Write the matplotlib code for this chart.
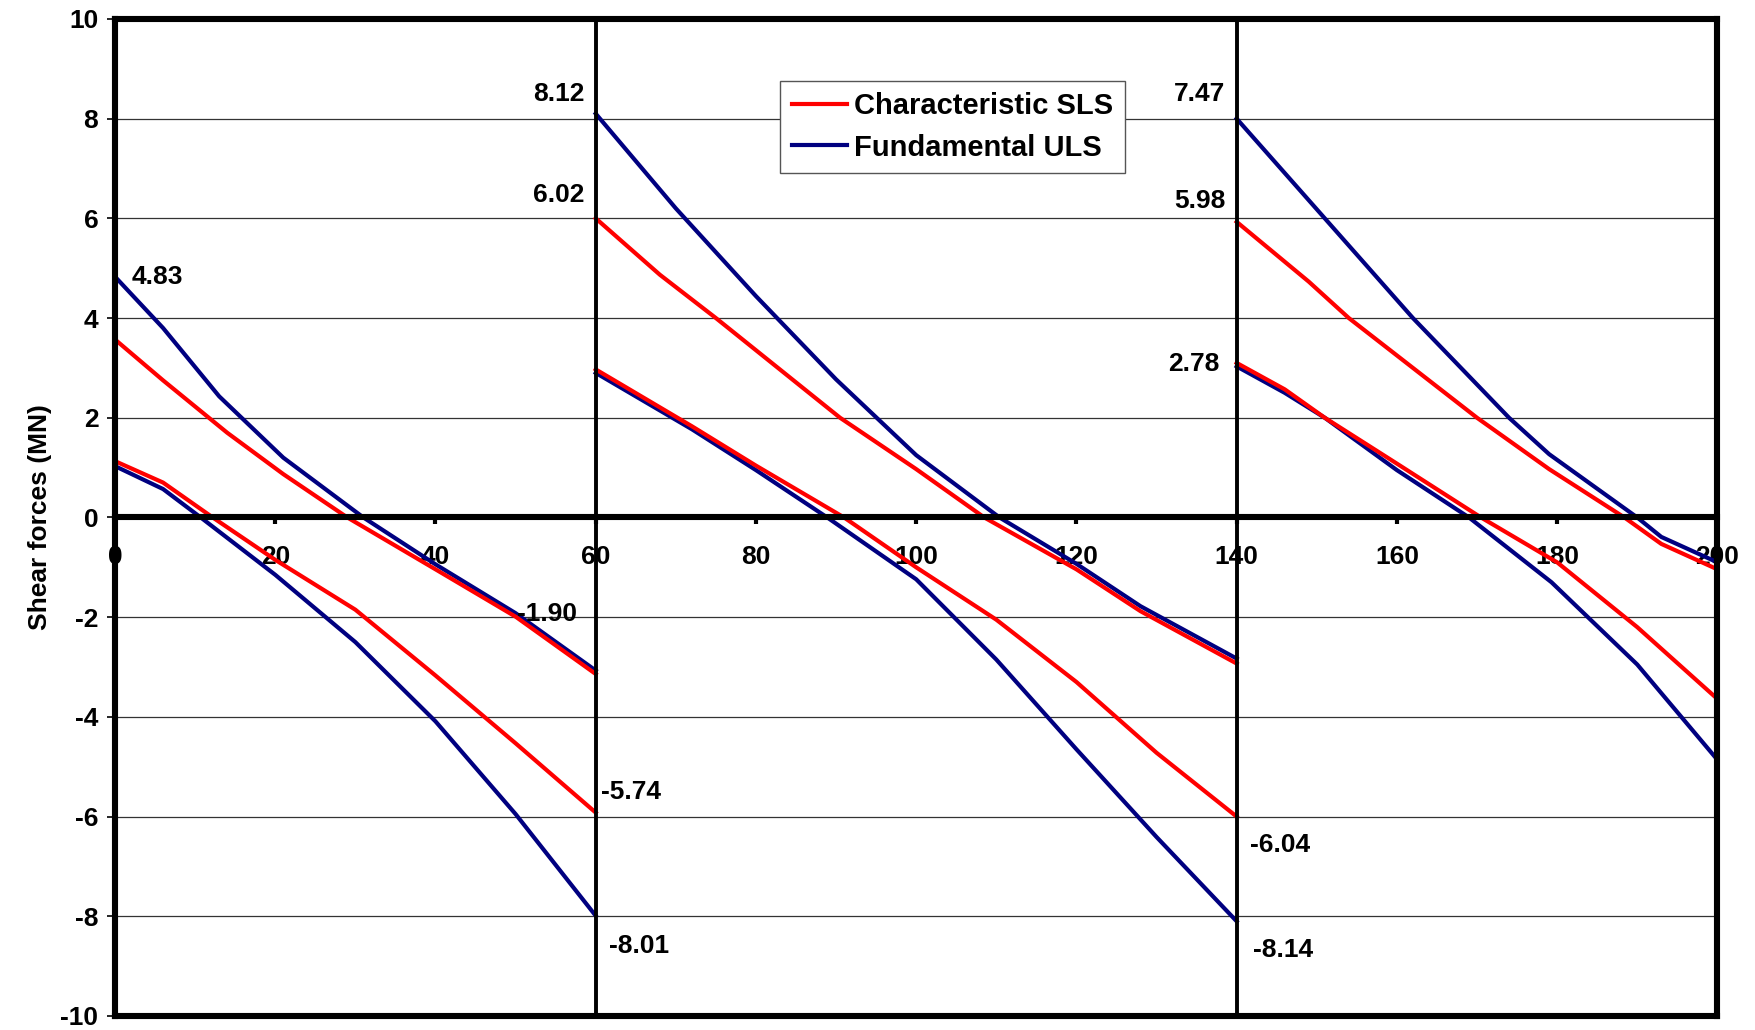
import matplotlib
matplotlib.use("Agg")
import matplotlib.pyplot as plt

plt.rcParams['font.family'] = ['Liberation Sans', 'DejaVu Sans']
plt.rcParams['font.weight'] = 'bold'
plt.rcParams['axes.unicode_minus'] = False

# span 1 (0-60)
sls_max_1_x = [0, 6, 14, 21, 29, 40, 50, 60]
sls_max_1_y = [3.57, 2.75, 1.7, 0.87, 0.0, -1.04, -1.99, -3.14]
uls_max_1_x = [0, 6, 13, 21, 31, 40, 50, 60]
uls_max_1_y = [4.83, 3.8, 2.43, 1.2, 0.0, -0.94, -1.92, -3.07]
sls_min_1_x = [0, 6, 12.2, 20, 30, 40, 50, 60]
sls_min_1_y = [1.13, 0.7, 0.0, -0.85, -1.85, -3.17, -4.53, -5.92]
uls_min_1_x = [0, 6, 10.7, 20, 30, 40, 50, 60]
uls_min_1_y = [1.03, 0.57, 0.0, -1.15, -2.5, -4.09, -5.95, -7.99]

# span 2 (60-140)
sls_max_2_x = [60, 68, 75, 90.5, 100, 108.5, 120, 128, 140]
sls_max_2_y = [6.0, 4.87, 4.0, 2.0, 0.97, 0.0, -1.04, -1.88, -2.93]
uls_max_2_x = [60, 70, 80, 90, 100, 110.4, 120, 128, 140]
uls_max_2_y = [8.1, 6.2, 4.44, 2.77, 1.25, 0.0, -0.93, -1.78, -2.83]
sls_min_2_x = [60, 72, 80, 91, 100, 110, 120, 130, 140]
sls_min_2_y = [2.97, 1.83, 1.04, 0.0, -1.0, -2.05, -3.3, -4.72, -6.0]
uls_min_2_x = [60, 72, 80, 88.9, 100, 110, 120, 130, 140]
uls_min_2_y = [2.9, 1.77, 0.95, 0.0, -1.24, -2.85, -4.65, -6.41, -8.1]

# span 3 (140-200)
sls_max_3_x = [140, 149, 154, 170, 179, 188.4, 193, 200]
sls_max_3_y = [5.93, 4.73, 4.0, 2.0, 0.97, 0.0, -0.53, -1.04]
uls_max_3_x = [140, 151, 162, 174, 179, 190, 193, 200]
uls_max_3_y = [8.0, 6.0, 4.0, 2.0, 1.27, 0.0, -0.39, -0.9]
sls_min_3_x = [140, 146, 151, 160, 170.5, 180, 190, 200]
sls_min_3_y = [3.1, 2.57, 2.0, 1.08, 0.0, -0.9, -2.2, -3.64]
uls_min_3_x = [140, 146, 151, 160, 169, 179.3, 190, 200]
uls_min_3_y = [3.03, 2.5, 2.0, 0.95, 0.0, -1.3, -2.95, -4.86]

supports = [60, 140]
x_ticks = [0, 20, 40, 60, 80, 100, 120, 140, 160, 180, 200]
y_ticks = [-10, -8, -6, -4, -2, 0, 2, 4, 6, 8, 10]

# value labels: text, x, y, horizontal alignment
label_text = ['4.83', '8.12', '6.02', '-1.90', '-5.74', '-8.01',
              '7.47', '5.98', '2.78', '-6.04', '-8.14']
label_x = [2.1, 58.6, 58.6, 50.2, 60.6, 61.7, 138.6, 138.6, 137.8, 141.7, 142.0]
label_y = [4.83, 8.5, 6.47, -1.93, -5.5, -8.6, 8.5, 6.34, 3.08, -6.58, -8.67]
label_ha = ['left', 'right', 'right', 'left', 'left', 'left',
            'right', 'right', 'right', 'left', 'left']

red = '#ff0000'
navy = '#000080'

fig = plt.figure(figsize=(17.56, 10.30), dpi=100)
ax = fig.add_axes([0.0655, 0.0136, 0.9125, 0.968])

lw = 3.0
sls = [(sls_max_1_x, sls_max_1_y), (sls_min_1_x, sls_min_1_y),
       (sls_max_2_x, sls_max_2_y), (sls_min_2_x, sls_min_2_y),
       (sls_max_3_x, sls_max_3_y), (sls_min_3_x, sls_min_3_y)]
uls = [(uls_max_1_x, uls_max_1_y), (uls_min_1_x, uls_min_1_y),
       (uls_max_2_x, uls_max_2_y), (uls_min_2_x, uls_min_2_y),
       (uls_max_3_x, uls_max_3_y), (uls_min_3_x, uls_min_3_y)]

for i, (xs, ys) in enumerate(uls):
    ax.plot(xs, ys, color=navy, lw=lw, zorder=3,
            label='Fundamental ULS' if i == 0 else None)
for i, (xs, ys) in enumerate(sls):
    ax.plot(xs, ys, color=red, lw=lw, zorder=4,
            label='Characteristic SLS' if i == 0 else None)

for s in supports:
    ax.axvline(s, color='black', lw=2.8, zorder=5)

ax.set_xlim(0, 200)
ax.set_ylim(-10, 10)
ax.set_xticks(x_ticks)
ax.set_yticks(y_ticks)
ax.yaxis.grid(True, color='#333333', lw=0.9)
ax.set_axisbelow(True)

for side in ['left', 'top', 'right', 'bottom']:
    ax.spines[side].set_linewidth(4.4)
    ax.spines[side].set_zorder(6)
ax.spines['bottom'].set_position(('data', 0))
ax.axhline(-10, color='black', lw=4.4, clip_on=False, zorder=6)

ax.tick_params(axis='x', direction='out', length=5, width=3, pad=15, labelsize=19)
ax.tick_params(axis='y', direction='out', length=6, width=1.2, pad=6, labelsize=19)
for t in ax.get_xticklabels() + ax.get_yticklabels():
    t.set_fontweight('bold')

ax.set_ylabel('Shear forces (MN)', fontsize=19, fontweight='bold', labelpad=6)

for t, x, y, ha in zip(label_text, label_x, label_y, label_ha):
    ax.text(x, y, t, ha=ha, va='center', fontsize=19, fontweight='bold', zorder=7)

handles, labels = ax.get_legend_handles_labels()
order = [labels.index('Characteristic SLS'), labels.index('Fundamental ULS')]
leg = ax.legend([handles[i] for i in order], [labels[i] for i in order],
                loc='upper left', bbox_to_anchor=(0.415, 0.938),
                fancybox=False, framealpha=1, edgecolor='#555555',
                prop={'size': 21, 'weight': 'bold'}, handlelength=1.9,
                borderpad=0.4, labelspacing=0.45, handletextpad=0.25,
                borderaxespad=0)
leg.get_frame().set_linewidth(1.0)
leg.set_zorder(8)

fig.savefig('out.png', dpi=100)
